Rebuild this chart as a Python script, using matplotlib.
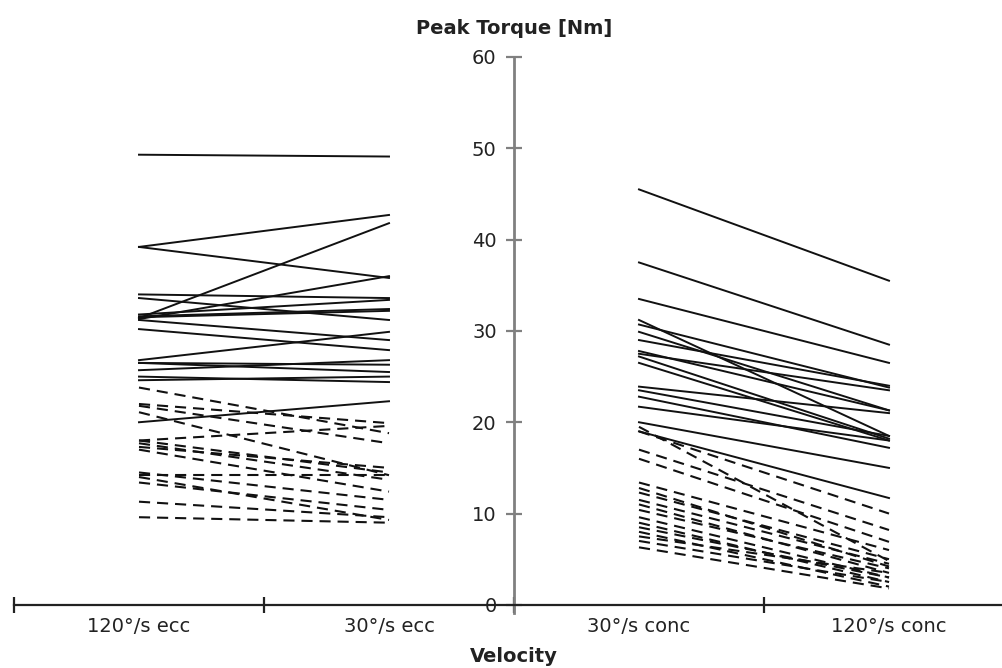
import matplotlib
matplotlib.use('Agg')
import matplotlib.pyplot as plt

# ---- data ----
categories = ['120°/s ecc', '30°/s ecc', '30°/s conc', '120°/s conc']
yticks = [0, 10, 20, 30, 40, 50, 60]

# eccentric: 120°/s -> 30°/s
ecc120_solid = [49.3, 39.2, 39.2, 31.4, 34.0, 33.6, 31.6, 31.5, 31.3, 31.8, 31.2, 30.2, 26.8, 26.5, 25.7, 25.0, 26.5, 20.0, 24.6]
ecc30_solid  = [49.1, 42.7, 35.8, 41.8, 33.6, 31.2, 32.4, 32.2, 36.0, 33.4, 29.0, 27.9, 29.9, 25.5, 26.8, 24.4, 26.3, 22.3, 25.0]
ecc120_dashed = [23.8, 22.0, 21.8, 21.1, 18.0, 17.7, 17.3, 17.0, 14.5, 14.0, 13.4, 11.3, 9.6, 18.0, 14.2]
ecc30_dashed  = [18.8, 19.9, 17.7, 14.2, 14.5, 13.7, 15.0, 12.4, 11.5, 9.3, 10.4, 9.6, 9.0, 19.6, 14.2]

# concentric: 30°/s -> 120°/s
conc30_solid  = [45.5, 37.5, 33.5, 31.2, 30.7, 29.9, 29.0, 27.8, 27.5, 27.2, 26.5, 23.9, 23.5, 22.8, 21.7, 20.0, 19.0]
conc120_solid = [35.5, 28.5, 26.5, 18.5, 23.8, 21.3, 24.0, 21.3, 23.5, 18.2, 18.0, 21.0, 18.5, 17.2, 18.0, 15.0, 11.7]
conc30_dashed  = [19.5, 19.0, 17.0, 16.0, 13.4, 12.8, 12.3, 11.5, 11.0, 10.4, 9.6, 9.0, 8.5, 8.0, 7.5, 7.0, 6.3]
conc120_dashed = [4.8, 10.0, 8.2, 6.9, 6.0, 4.2, 5.0, 4.5, 3.5, 4.0, 3.0, 2.5, 3.0, 2.0, 3.5, 2.5, 1.8]

# ---- style ----
plt.rcParams['font.family'] = ['DejaVu Sans']
plt.rcParams['lines.scale_dashes'] = False
line_col = '#111111'
text_col = '#222222'

fig = plt.figure(figsize=(10.03, 6.68), dpi=100)
ax = fig.add_axes([14 / 1003, 54 / 668, 1000 / 1003, 557 / 668])

xpos = [0.5, 1.5, 2.5, 3.5]

def draw(x0, x1, a_vals, b_vals, dashed):
    for a, b in zip(a_vals, b_vals):
        if dashed:
            ax.plot([x0, x1], [a, b], color=line_col, lw=1.5, dashes=(8, 5))
        else:
            ax.plot([x0, x1], [a, b], color=line_col, lw=1.4)

draw(xpos[0], xpos[1], ecc120_solid, ecc30_solid, False)
draw(xpos[0], xpos[1], ecc120_dashed, ecc30_dashed, True)
draw(xpos[2], xpos[3], conc30_solid, conc120_solid, False)
draw(xpos[2], xpos[3], conc30_dashed, conc120_dashed, True)

ax.set_xlim(0, 4)
ax.set_ylim(-1, 60)

for s in ('top', 'right'):
    ax.spines[s].set_visible(False)
ax.spines['left'].set_position(('data', 2))
ax.spines['left'].set_color('#808080')
ax.spines['left'].set_linewidth(2.0)
ax.spines['left'].set_bounds(-0.9, 60)
ax.spines['bottom'].set_position(('data', 0))
ax.spines['bottom'].set_color('#222222')
ax.spines['bottom'].set_linewidth(1.6)

ax.set_yticks(yticks)
ax.set_yticklabels([str(v) for v in yticks])
ax.tick_params(axis='y', direction='inout', length=11, width=1.6, color='#808080',
               pad=7, labelsize=14, labelcolor=text_col)

ax.set_xticks([0, 1, 2, 3, 4])
ax.set_xticklabels([])
ax.set_xticks(xpos, minor=True)
ax.set_xticklabels(categories, minor=True)
ax.tick_params(axis='x', which='major', direction='inout', length=12, width=1.6, color='#222222')
ax.tick_params(axis='x', which='minor', length=0, pad=9, labelsize=14, labelcolor=text_col)

fig.text(514 / 1003, 1 - 29 / 668, 'Peak Torque [Nm]', ha='center', va='center',
         fontweight='bold', fontsize=14, color=text_col)
fig.text(514 / 1003, 1 - 657 / 668, 'Velocity', ha='center', va='center',
         fontweight='bold', fontsize=14, color=text_col)

fig.savefig('out.png', dpi=100)
